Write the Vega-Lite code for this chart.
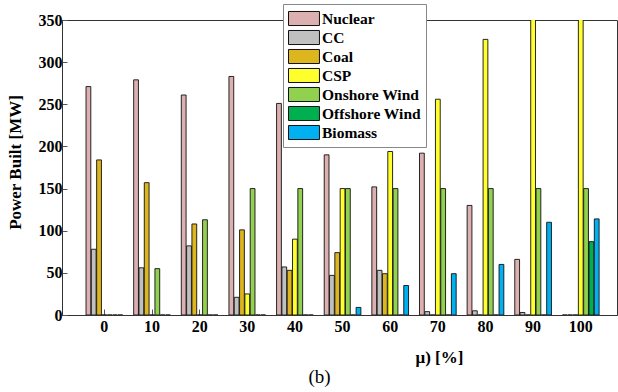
{
  "$schema": "https://vega.github.io/schema/vega-lite/v6.json",
  "autosize": {"type": "none"},
  "padding": {"left": 62, "top": 20, "right": 1, "bottom": 77},
  "width": 555,
  "height": 295,
  "background": "white",
  "config": {
    "view": {"stroke": "#333", "strokeWidth": 1},
    "font": "Times New Roman, Liberation Serif, serif"
  },
  "title": {
    "text": "(b)",
    "orient": "bottom",
    "anchor": "middle",
    "font": "Times New Roman, Liberation Serif, serif",
    "fontSize": 19,
    "fontWeight": "normal",
    "color": "black",
    "dx": -20,
    "offset": 3
  },
  "data": {
    "values": [
      {"mu": 0, "source": "Nuclear", "value": 271}, {"mu": 0, "source": "CC", "value": 78}, {"mu": 0, "source": "Coal", "value": 184}, {"mu": 0, "source": "CSP", "value": 0}, {"mu": 0, "source": "Onshore Wind", "value": 0}, {"mu": 0, "source": "Offshore Wind", "value": 0}, {"mu": 0, "source": "Biomass", "value": 0},
      {"mu": 10, "source": "Nuclear", "value": 279}, {"mu": 10, "source": "CC", "value": 56}, {"mu": 10, "source": "Coal", "value": 157}, {"mu": 10, "source": "CSP", "value": 0}, {"mu": 10, "source": "Onshore Wind", "value": 55}, {"mu": 10, "source": "Offshore Wind", "value": 0}, {"mu": 10, "source": "Biomass", "value": 0},
      {"mu": 20, "source": "Nuclear", "value": 261}, {"mu": 20, "source": "CC", "value": 82}, {"mu": 20, "source": "Coal", "value": 108}, {"mu": 20, "source": "CSP", "value": 0}, {"mu": 20, "source": "Onshore Wind", "value": 113}, {"mu": 20, "source": "Offshore Wind", "value": 0}, {"mu": 20, "source": "Biomass", "value": 0},
      {"mu": 30, "source": "Nuclear", "value": 283}, {"mu": 30, "source": "CC", "value": 21}, {"mu": 30, "source": "Coal", "value": 101}, {"mu": 30, "source": "CSP", "value": 25}, {"mu": 30, "source": "Onshore Wind", "value": 150}, {"mu": 30, "source": "Offshore Wind", "value": 0}, {"mu": 30, "source": "Biomass", "value": 0},
      {"mu": 40, "source": "Nuclear", "value": 251}, {"mu": 40, "source": "CC", "value": 57}, {"mu": 40, "source": "Coal", "value": 53}, {"mu": 40, "source": "CSP", "value": 90}, {"mu": 40, "source": "Onshore Wind", "value": 150}, {"mu": 40, "source": "Offshore Wind", "value": 0}, {"mu": 40, "source": "Biomass", "value": 0},
      {"mu": 50, "source": "Nuclear", "value": 190}, {"mu": 50, "source": "CC", "value": 47}, {"mu": 50, "source": "Coal", "value": 74}, {"mu": 50, "source": "CSP", "value": 150}, {"mu": 50, "source": "Onshore Wind", "value": 150}, {"mu": 50, "source": "Offshore Wind", "value": 0}, {"mu": 50, "source": "Biomass", "value": 9},
      {"mu": 60, "source": "Nuclear", "value": 152}, {"mu": 60, "source": "CC", "value": 53}, {"mu": 60, "source": "Coal", "value": 49}, {"mu": 60, "source": "CSP", "value": 194}, {"mu": 60, "source": "Onshore Wind", "value": 150}, {"mu": 60, "source": "Offshore Wind", "value": 0}, {"mu": 60, "source": "Biomass", "value": 35},
      {"mu": 70, "source": "Nuclear", "value": 192}, {"mu": 70, "source": "CC", "value": 4}, {"mu": 70, "source": "Coal", "value": 0}, {"mu": 70, "source": "CSP", "value": 256}, {"mu": 70, "source": "Onshore Wind", "value": 150}, {"mu": 70, "source": "Offshore Wind", "value": 0}, {"mu": 70, "source": "Biomass", "value": 49},
      {"mu": 80, "source": "Nuclear", "value": 130}, {"mu": 80, "source": "CC", "value": 5}, {"mu": 80, "source": "Coal", "value": 0}, {"mu": 80, "source": "CSP", "value": 327}, {"mu": 80, "source": "Onshore Wind", "value": 150}, {"mu": 80, "source": "Offshore Wind", "value": 0}, {"mu": 80, "source": "Biomass", "value": 60},
      {"mu": 90, "source": "Nuclear", "value": 66}, {"mu": 90, "source": "CC", "value": 3}, {"mu": 90, "source": "Coal", "value": 0}, {"mu": 90, "source": "CSP", "value": 390}, {"mu": 90, "source": "Onshore Wind", "value": 150}, {"mu": 90, "source": "Offshore Wind", "value": 0}, {"mu": 90, "source": "Biomass", "value": 110},
      {"mu": 100, "source": "Nuclear", "value": 0}, {"mu": 100, "source": "CC", "value": 0}, {"mu": 100, "source": "Coal", "value": 0}, {"mu": 100, "source": "CSP", "value": 420}, {"mu": 100, "source": "Onshore Wind", "value": 150}, {"mu": 100, "source": "Offshore Wind", "value": 87}, {"mu": 100, "source": "Biomass", "value": 114}
    ]
  },
  "mark": {"type": "bar", "clip": true, "stroke": "#111", "strokeWidth": 0.9},
  "encoding": {
    "x": {
      "field": "mu",
      "type": "ordinal",
      "scale": {"paddingInner": 0.23, "paddingOuter": 0.44, "align": 0.573},
      "axis": {
        "title": "μ) [%]",
        "titleFont": "Times New Roman, Liberation Serif, serif",
        "titleFontSize": 17,
        "titleFontWeight": "bold",
        "titleColor": "black",
        "titleX": 377,
        "titleY": 42,
        "titleBaseline": "middle",
        "labelAngle": 0,
        "labelFont": "Times New Roman, Liberation Serif, serif",
        "labelFontSize": 16,
        "labelFontWeight": "bold",
        "labelColor": "black",
        "labelPadding": 9,
        "tickSize": -6,
        "tickColor": "#555",
        "domainColor": "#333",
        "grid": false
      }
    },
    "xOffset": {
      "field": "source",
      "type": "nominal",
      "sort": ["Nuclear", "CC", "Coal", "CSP", "Onshore Wind", "Offshore Wind", "Biomass"],
      "scale": {"paddingInner": 0.1, "paddingOuter": 0}
    },
    "y": {
      "field": "value",
      "type": "quantitative",
      "scale": {"domain": [0, 350], "nice": false},
      "axis": {
        "title": "Power Built [MW]",
        "titleFont": "Times New Roman, Liberation Serif, serif",
        "titleFontSize": 17,
        "titleFontWeight": "bold",
        "titleColor": "black",
        "titleX": -38,
        "titleY": 142,
        "values": [0, 50, 100, 150, 200, 250, 300, 350],
        "labelFont": "Times New Roman, Liberation Serif, serif",
        "labelFontSize": 16,
        "labelFontWeight": "bold",
        "labelColor": "black",
        "labelPadding": 5,
        "tickSize": -5,
        "tickColor": "#555",
        "domainColor": "#333",
        "grid": false
      }
    },
    "fill": {
      "field": "source",
      "type": "nominal",
      "scale": {
        "domain": ["Nuclear", "CC", "Coal", "CSP", "Onshore Wind", "Offshore Wind", "Biomass"],
        "range": ["#dcb0b0", "#c0c0c0", "#dcb51f", "#ffff2e", "#92d050", "#00b050", "#00b0f0"]
      },
      "legend": {
        "title": null,
        "orient": "none",
        "legendX": 221,
        "legendY": -16,
        "fillColor": "white",
        "strokeColor": "#888",
        "padding": 5,
        "rowPadding": 0,
        "symbolType": "M-1,-0.78H2.44V0.78H-1Z",
        "symbolSize": 324,
        "symbolStrokeColor": "#111",
        "symbolStrokeWidth": 1,
        "symbolOpacity": 1,
        "labelFont": "Times New Roman, Liberation Serif, serif",
        "labelFontSize": 15.5,
        "labelFontWeight": "bold",
        "labelColor": "black",
        "labelOffset": 15,
        "labelLimit": 200
      }
    }
  }
}
